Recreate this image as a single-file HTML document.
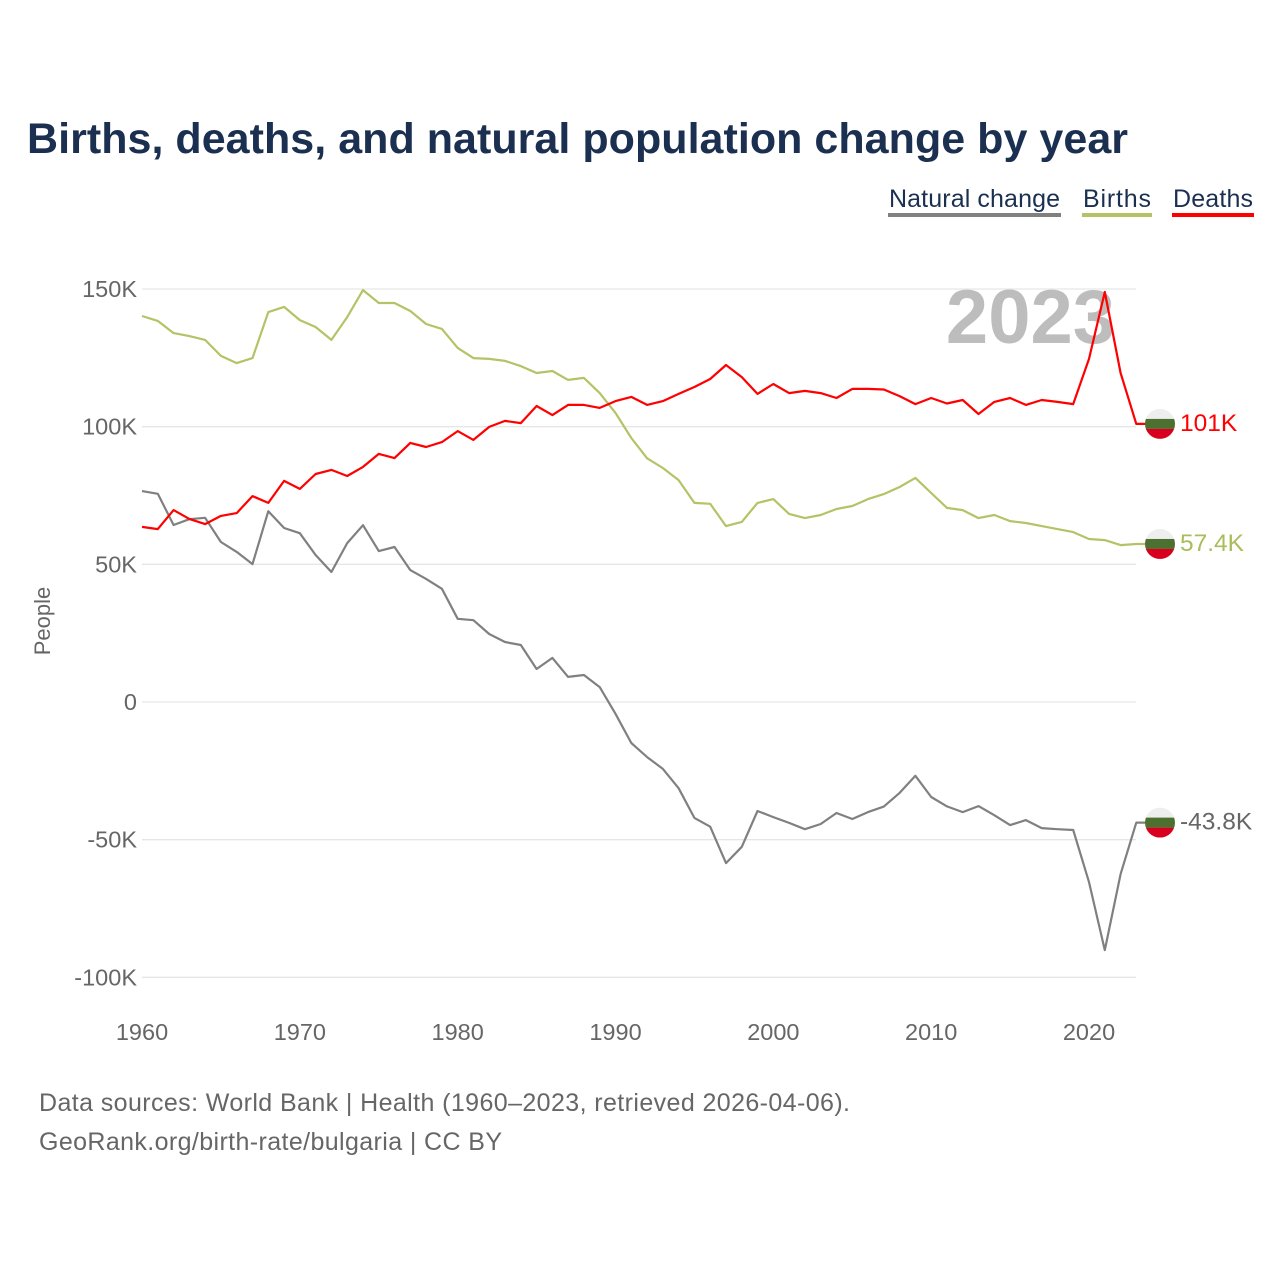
<!DOCTYPE html>
<html><head><meta charset="utf-8">
<style>
html,body{margin:0;padding:0;background:#fff;}
body{width:1280px;height:1280px;overflow:hidden;font-family:"Liberation Sans",sans-serif;}
</style></head>
<body>
<svg id="chart" width="1280" height="1280" xmlns="http://www.w3.org/2000/svg" font-family="Liberation Sans, sans-serif">
<text x="27" y="153" font-size="43" font-weight="bold" fill="#1b2f50" textLength="1101">Births, deaths, and natural population change by year</text>
<g font-size="25" fill="#1b2f50">
<g><text x="889" y="207" textLength="171">Natural change</text><rect x="888" y="213" width="173" height="4" fill="#808080"/></g>
<g><text x="1083" y="207" textLength="68">Births</text><rect x="1082" y="213" width="70" height="4" fill="#b2c466"/></g>
<g><text x="1173" y="207" textLength="80">Deaths</text><rect x="1172" y="213" width="82" height="4" fill="#ff0000"/></g>
</g>
<g id="grid"></g>
<text x="1115" y="343" text-anchor="end" font-size="76" font-weight="bold" fill="#bdbdbd">2023</text>
<g id="yaxis"></g>
<g id="xaxis"></g>
<text transform="translate(50,621) rotate(-90)" text-anchor="middle" font-size="22" fill="#666">People</text>
<g id="series"></g>
<g id="endlabels"></g>
<text x="39" y="1111" font-size="25" fill="#666" textLength="811">Data sources: World Bank | Health (1960–2023, retrieved 2026-04-06).</text>
<text x="39" y="1150" font-size="25" fill="#666" textLength="463">GeoRank.org/birth-rate/bulgaria | CC BY</text>
</svg>
<script>
const startYear = 1960;
const births = [140.2,138.4,134.0,132.9,131.5,125.7,123.1,124.9,141.6,143.5,138.7,136.2,131.5,139.8,149.6,144.9,144.9,142.0,137.3,135.5,128.6,124.9,124.6,123.9,122.0,119.5,120.2,117.0,117.7,112.2,105.0,95.9,88.5,85.0,80.6,72.3,72.0,63.9,65.4,72.3,73.7,68.3,66.8,67.9,70.1,71.2,73.7,75.5,78.1,81.4,75.9,70.5,69.7,66.8,67.9,65.7,65.0,63.9,62.8,61.7,59.2,58.8,57.0,57.4];
const deaths = [63.6,62.8,69.7,66.5,64.6,67.6,68.6,74.8,72.3,80.3,77.4,82.8,84.3,82.1,85.4,90.1,88.6,94.1,92.6,94.4,98.4,95.2,99.9,102.1,101.3,107.5,104.2,107.9,107.9,106.8,109.3,110.8,107.9,109.3,111.9,114.4,117.3,122.4,118.0,111.9,115.5,112.2,113.0,112.2,110.4,113.7,113.7,113.5,111.1,108.2,110.4,108.4,109.7,104.6,109.0,110.4,107.9,109.7,109.0,108.2,124.6,148.9,119.5,101.0];
const natural = [76.6,75.6,64.3,66.4,66.9,58.1,54.5,50.1,69.3,63.2,61.3,53.4,47.2,57.7,64.2,54.8,56.3,47.9,44.7,41.1,30.2,29.7,24.7,21.8,20.7,12.0,16.0,9.1,9.8,5.4,-4.3,-14.9,-20.0,-24.3,-31.3,-42.1,-45.3,-58.5,-52.6,-39.6,-41.8,-43.9,-46.2,-44.3,-40.3,-42.5,-40.0,-38.0,-33.0,-26.8,-34.5,-37.9,-40.0,-37.8,-41.1,-44.7,-42.9,-45.8,-46.2,-46.5,-65.4,-90.1,-62.5,-43.8];
const yTicks = [150,100,50,0,-50,-100];
const yTickLabels = ["150K","100K","50K","0","-50K","-100K"];
const xTicks = [1960,1970,1980,1990,2000,2010,2020];
const endLabels = ["-43.8K","57.4K","101K"];

const NS="http://www.w3.org/2000/svg";
const X0=142, X1=1136;
function xs(year){return X0+(year-1960)*(1089-142)/60;}
function ys(v){return 702-v*(413/150);}
function mk(tag,attrs,parent){const e=document.createElementNS(NS,tag);for(const k in attrs)e.setAttribute(k,attrs[k]);parent.appendChild(e);return e;}
const grid=document.getElementById('grid'), yax=document.getElementById('yaxis'), xax=document.getElementById('xaxis');
yTicks.forEach((t,i)=>{
  const l=mk('line',{x1:X0,x2:X1,y1:ys(t),y2:ys(t),stroke:'#e6e6e6','stroke-width':1.3},grid);
  
  
  const tx=mk('text',{x:137,y:ys(t)+8,'text-anchor':'end','font-size':23.5,fill:'#666'},yax);
  tx.textContent=yTickLabels[i];
  
  
});
xTicks.forEach(t=>{
  const tx=mk('text',{x:xs(t),y:1040,'text-anchor':'middle','font-size':23.5,fill:'#666'},xax);
  tx.textContent=String(t);
  
  
});
const ser=document.getElementById('series'), el=document.getElementById('endlabels');
const defs=[[natural,'#808080','natural-change-line','#666'],[births,'#b2c466','births-line','#a9bd5a'],[deaths,'#ff0000','deaths-line','#ff0000']];
defs.forEach((d,si)=>{
  const arr=d[0];
  let pts=arr.map((v,i)=>xs(startYear+i).toFixed(1)+','+ys(v).toFixed(1));
  const last=arr[arr.length-1];
  pts.push('1146,'+ys(last).toFixed(1));
  const p=mk('polyline',{points:pts.join(' '),fill:'none',stroke:d[1],'stroke-width':2.2,'stroke-linejoin':'round'},ser);
  
  
  const cy=ys(last), cx=1160;
  const g=mk('g',{},el);
  
  
  const cid='clip'+si;
  const cp=mk('clipPath',{id:cid},g); mk('circle',{cx:cx,cy:cy,r:15},cp);
  const gg=mk('g',{'clip-path':'url(#'+cid+')'},g);
  mk('rect',{x:cx-15,y:cy-15,width:30,height:10,fill:'#eeeeee'},gg);
  mk('rect',{x:cx-15,y:cy-5,width:30,height:10,fill:'#4b7030'},gg);
  mk('rect',{x:cx-15,y:cy+5,width:30,height:10,fill:'#d8001e'},gg);
  const t=mk('text',{x:1180,y:cy+7,'font-size':24.5,fill:d[3]},el);
  t.textContent=endLabels[si];
  
  
});
</script>
</body></html>
